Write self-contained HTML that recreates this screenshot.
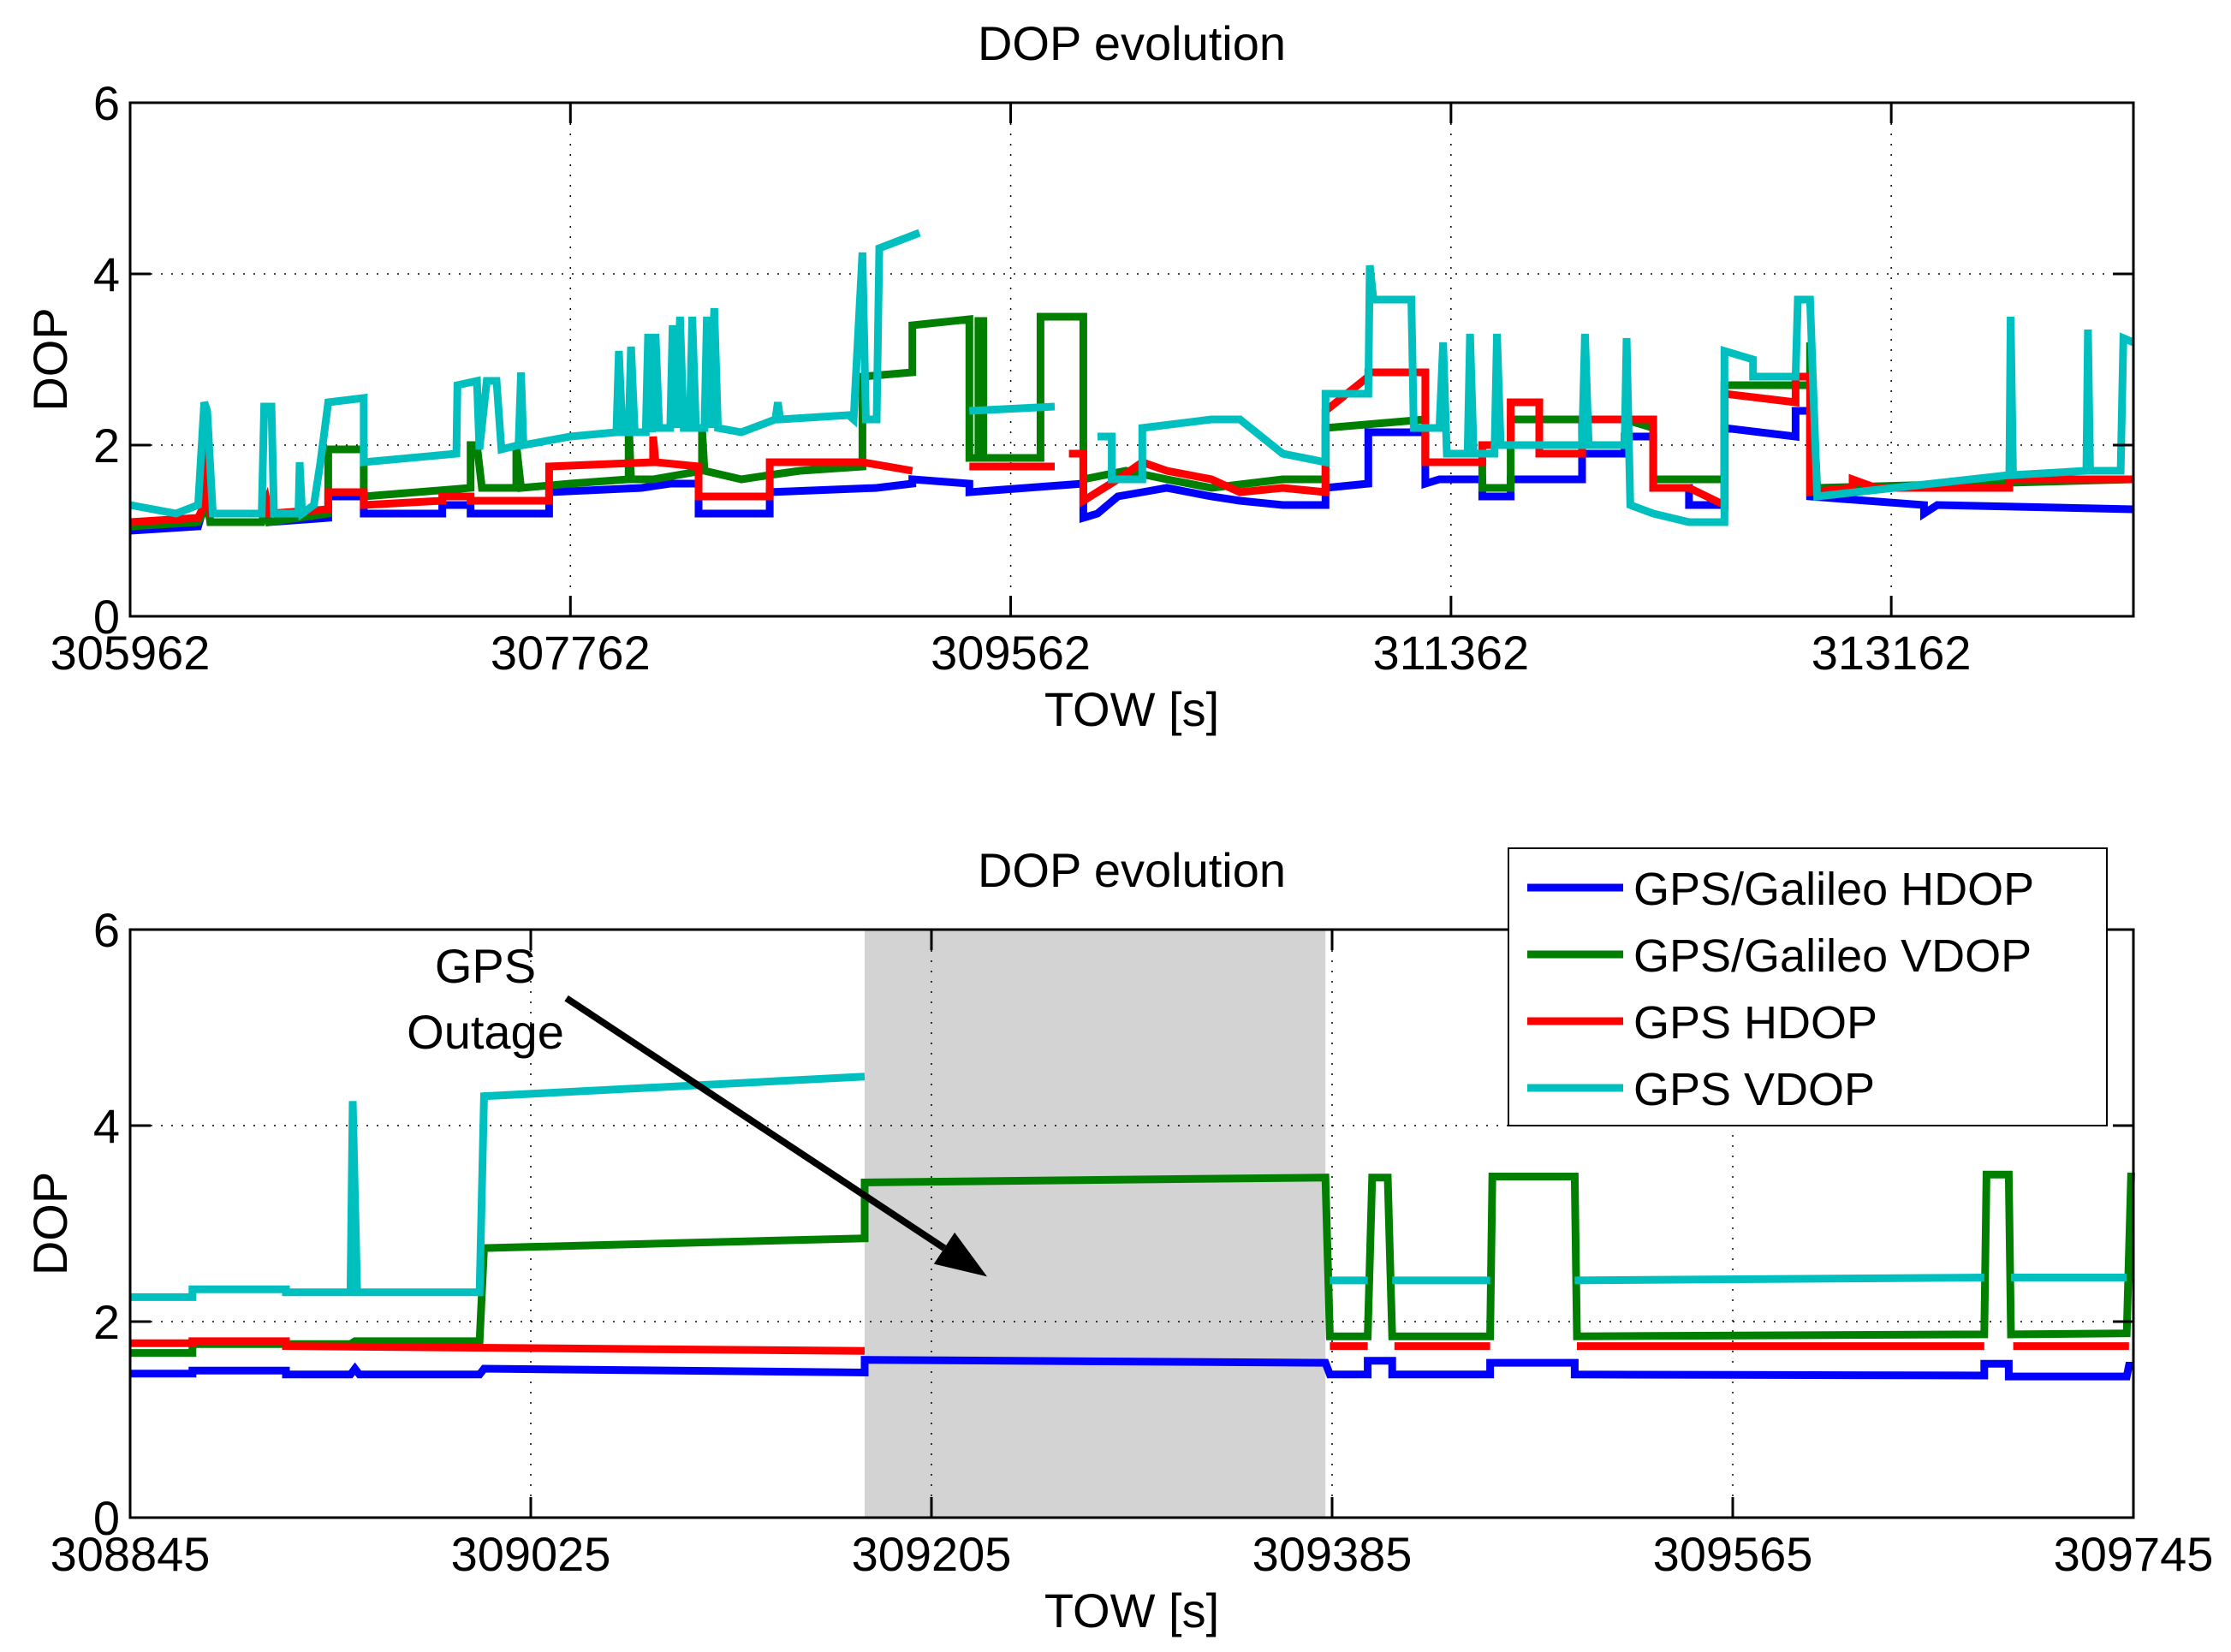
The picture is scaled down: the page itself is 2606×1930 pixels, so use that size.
<!DOCTYPE html>
<html><head><meta charset="utf-8"><style>
body{margin:0;background:#fff}
svg text{font-family:"Liberation Sans",sans-serif;fill:#000}
</style></head><body>
<svg id="c" width="2606" height="1925" xmlns="http://www.w3.org/2000/svg"></svg>
<script>
// ---------- data: top panel ----------
const topXTicks=[305962,307762,309562,311362,313162];
const bottomXTicks=[308845,309025,309205,309385,309565,309745];
const yTicks=[0,2,4,6];
const seriesNames=["GPS/Galileo HDOP","GPS/Galileo VDOP","GPS HDOP","GPS VDOP"];
const seriesColors=["#0000ff","#007f00","#ff0000","#00bfbf"];
const topBlue=[[305962,1.0],[306240,1.05],[306265,1.3],[306277,1.45],[306290,1.1],[306500,1.1],[306520,1.2],[306530,1.1],[306772,1.15],[306772,1.4],[306917,1.4],[306917,1.2],[307238,1.2],[307238,1.3],[307354,1.3],[307354,1.2],[307675,1.2],[307675,1.45],[308053,1.5],[308170,1.55],[308286,1.55],[308286,1.2],[308577,1.2],[308577,1.45],[309014,1.5],[309160,1.55],[309160,1.6],[309393,1.55],[309393,1.45],[309859,1.55],[309859,1.15],[309917,1.2],[310000,1.4],[310100,1.45],[310200,1.5],[310383,1.4],[310499,1.35],[310674,1.3],[310849,1.3],[310849,1.5],[311024,1.55],[311024,2.15],[311257,2.15],[311257,1.55],[311315,1.6],[311490,1.6],[311490,1.4],[311606,1.4],[311606,1.6],[311898,1.6],[311898,1.9],[312072,1.9],[312072,2.1],[312189,2.1],[312189,1.5],[312335,1.5],[312335,1.3],[312480,1.3],[312480,2.2],[312771,2.1],[312771,2.4],[312830,2.4],[312830,1.4],[313296,1.3],[313296,1.2],[313350,1.3],[314152,1.25]];
const topGreen=[[305962,1.05],[306240,1.1],[306277,1.3],[306290,1.1],[306500,1.1],[306520,1.3],[306530,1.1],[306772,1.2],[306772,1.95],[306917,1.95],[306917,1.4],[307354,1.5],[307354,2.0],[307380,2.0],[307400,1.5],[307541,1.5],[307541,2.0],[307560,1.5],[307762,1.55],[308000,1.6],[308000,2.3],[308010,1.6],[308100,1.6],[308300,1.7],[308300,2.2],[308310,1.7],[308461,1.6],[308577,1.65],[308700,1.7],[308956,1.75],[308956,2.8],[309160,2.85],[309160,3.4],[309393,3.47],[309393,1.85],[309430,1.85],[309430,3.45],[309450,3.45],[309450,1.85],[309684,1.85],[309684,3.5],[309859,3.5],[309859,1.6],[310033,1.7],[310200,1.6],[310383,1.5],[310674,1.6],[310849,1.6],[310849,2.2],[311257,2.3],[311257,1.8],[311490,1.8],[311490,1.5],[311606,1.5],[311606,2.3],[312072,2.3],[312189,2.2],[312189,1.6],[312480,1.6],[312480,2.7],[312830,2.7],[312830,3.2],[312859,1.5],[314152,1.6]];
const topRed=[[305962,1.1],[306240,1.15],[306265,1.3],[306277,2.3],[306290,1.2],[306500,1.2],[306520,1.35],[306530,1.2],[306772,1.25],[306772,1.45],[306917,1.45],[306917,1.3],[307238,1.35],[307238,1.4],[307354,1.4],[307354,1.35],[307675,1.35],[307675,1.75],[308100,1.8],[308100,2.1],[308110,1.8],[308286,1.75],[308286,1.4],[308577,1.4],[308577,1.8],[308956,1.8],[309160,1.7],[309160,null],[309393,1.75],[309742,1.75],[309742,null],[309800,1.9],[309859,1.9],[309859,1.35],[310000,1.6],[310100,1.8],[310200,1.7],[310383,1.6],[310499,1.45],[310674,1.5],[310849,1.45],[310849,2.4],[311024,2.8],[311024,2.85],[311257,2.85],[311257,1.8],[311490,1.8],[311490,2.0],[311606,2.0],[311606,2.5],[311723,2.5],[311723,1.9],[311898,1.9],[311898,2.3],[312189,2.3],[312189,1.5],[312335,1.5],[312480,1.3],[312480,2.6],[312771,2.5],[312771,2.8],[312830,2.8],[312830,1.45],[313004,1.5],[313004,1.6],[313100,1.5],[313645,1.5],[313645,1.6],[314152,1.6]];
const topCyan=[[305962,1.3],[306150,1.2],[306240,1.3],[306265,2.5],[306277,2.4],[306300,1.2],[306500,1.2],[306510,2.45],[306540,2.45],[306550,1.2],[306650,1.2],[306655,1.8],[306665,1.2],[306713,1.3],[306740,1.8],[306772,2.5],[306917,2.55],[306917,1.8],[307296,1.9],[307300,2.7],[307380,2.75],[307390,1.95],[307420,2.75],[307460,2.75],[307480,1.95],[307550,2.0],[307560,2.85],[307570,2.0],[307762,2.1],[307950,2.15],[307960,3.1],[307975,2.15],[308000,2.15],[308010,3.15],[308025,2.15],[308070,2.15],[308080,3.3],[308095,2.15],[308110,3.3],[308125,2.2],[308170,2.2],[308180,3.4],[308195,2.2],[308210,3.5],[308225,2.2],[308250,2.2],[308260,3.5],[308275,2.2],[308310,2.2],[308320,3.5],[308335,2.2],[308350,3.6],[308365,2.2],[308461,2.15],[308600,2.3],[308610,2.5],[308620,2.3],[308900,2.35],[308920,2.3],[308956,4.25],[308970,2.3],[309014,2.3],[309025,4.3],[309189,4.48],[309189,null],[309393,2.4],[309742,2.45],[309742,null],[309917,2.1],[309975,2.1],[309975,1.6],[310100,1.6],[310100,2.2],[310383,2.3],[310499,2.3],[310674,1.9],[310849,1.8],[310849,2.6],[311024,2.6],[311030,4.1],[311045,3.7],[311200,3.7],[311210,2.2],[311315,2.2],[311330,3.2],[311345,1.9],[311430,1.9],[311440,3.3],[311455,1.9],[311540,1.9],[311550,3.3],[311565,2.0],[311898,2.0],[311910,3.3],[311925,2.0],[312072,2.0],[312080,3.25],[312095,1.3],[312189,1.2],[312335,1.1],[312480,1.1],[312480,3.1],[312597,3.0],[312597,2.8],[312771,2.8],[312780,3.7],[312830,3.7],[312859,1.4],[313645,1.65],[313650,3.5],[313660,1.65],[313960,1.7],[313966,3.35],[313975,1.7],[314100,1.7],[314111,3.25],[314152,3.2]];
// ---------- data: bottom panel ----------
const botBlue=[[308845,1.47],[308873,1.47],[308873,1.5],[308915,1.5],[308915,1.46],[308944,1.46],[308946,1.52],[308948,1.46],[309002,1.46],[309004,1.52],[309175,1.48],[309175,1.61],[309382,1.58],[309384,1.46],[309401,1.46],[309401,1.6],[309412,1.6],[309412,1.46],[309456,1.46],[309456,1.58],[309494,1.58],[309494,1.46],[309678,1.45],[309678,1.57],[309689,1.57],[309689,1.44],[309742,1.44],[309743,1.55],[309745,1.55]];
const botGreen=[[308845,1.68],[308873,1.68],[308873,1.77],[308944,1.77],[308946,1.8],[309002,1.8],[309004,2.75],[309175,2.85],[309175,3.42],[309382,3.47],[309384,1.85],[309401,1.85],[309403,3.47],[309410,3.47],[309412,1.85],[309456,1.85],[309457,3.48],[309494,3.48],[309495,1.85],[309678,1.87],[309679,3.5],[309689,3.5],[309690,1.87],[309742,1.88],[309744,3.52]];
const botRed=[[308845,1.78],[308873,1.78],[308873,1.8],[308915,1.8],[308915,1.75],[309175,1.7],[309175,null],[309384,1.75],[309401,1.75],[309401,null],[309413,1.75],[309456,1.75],[309456,null],[309495,1.75],[309678,1.75],[309678,null],[309691,1.75],[309743,1.75]];
const botCyan=[[308845,2.25],[308873,2.25],[308873,2.33],[308915,2.33],[308915,2.3],[308944,2.3],[308945,4.25],[308947,2.3],[309002,2.3],[309004,4.3],[309175,4.5],[309175,null],[309384,2.42],[309401,2.42],[309401,null],[309412,2.42],[309456,2.42],[309456,null],[309494,2.42],[309678,2.45],[309678,null],[309690,2.45],[309742,2.45]];
const outageSpan=[309175,309382];
const arrowFrom=[309041,5.3], arrowTo=[309230,2.46];

const NS="http://www.w3.org/2000/svg", svg=document.getElementById('c');
function el(tag,attrs,parent,txt){const e=document.createElementNS(NS,tag);for(const k in attrs)e.setAttribute(k,attrs[k]);if(txt!==undefined)e.textContent=txt;(parent||svg).appendChild(e);return e;}

function panel(name,box,xmin,xmax,xticks,series,extra){
  const [L,T,R,B]=box;
  const g=el('g',{});
  
  
  const sx=t=>L+(t-xmin)/(xmax-xmin)*(R-L), sy=v=>B-v/6*(B-T);
  if(extra&&extra.before)extra.before(g,sx,sy);
  xticks.forEach(t=>{if(t>xmin&&t<xmax){const l=el('line',{x1:sx(t),x2:sx(t),y1:T,y2:B,stroke:'#000','stroke-width':1.5,'stroke-dasharray':'2 10'},g);}});
  yTicks.forEach(v=>{if(v>0&&v<6){const l=el('line',{x1:L,x2:R,y1:sy(v),y2:sy(v),stroke:'#000','stroke-width':1.5,'stroke-dasharray':'2 10'},g);}});
  series.forEach((pts,i)=>{
    let d='',pen=false;
    pts.forEach(p=>{if(p[1]===null){pen=false;return;}d+=(pen?'L':'M')+sx(p[0]).toFixed(1)+' '+sy(p[1]).toFixed(1);pen=true;});
    const p=el('path',{d:d,fill:'none',stroke:seriesColors[i],'stroke-width':9,'stroke-linejoin':'miter'},g);
    
    
  });
  const bx=el('rect',{x:L,y:T,width:R-L,height:B-T,fill:'none',stroke:'#000','stroke-width':3},g);
  
  xticks.forEach(t=>{
    el('line',{x1:sx(t),x2:sx(t),y1:B,y2:B-24,stroke:'#000','stroke-width':3},g);
    el('line',{x1:sx(t),x2:sx(t),y1:T,y2:T+24,stroke:'#000','stroke-width':3},g);
    const tx=el('text',{x:sx(t),y:B+62,'font-size':56,'text-anchor':'middle'},g,String(t));
    
  });
  yTicks.forEach(v=>{
    el('line',{x1:L,x2:L+24,y1:sy(v),y2:sy(v),stroke:'#000','stroke-width':3},g);
    el('line',{x1:R,x2:R-24,y1:sy(v),y2:sy(v),stroke:'#000','stroke-width':3},g);
    const tx=el('text',{x:L-12,y:sy(v)+20,'font-size':56,'text-anchor':'end'},g,String(v));
    
  });
  const ti=el('text',{x:(L+R)/2,y:T-50,'font-size':56,'text-anchor':'middle'},g,'DOP evolution');
  
  const xl=el('text',{x:(L+R)/2,y:B+128,'font-size':56,'text-anchor':'middle'},g,'TOW [s]');
  
  const yl=el('text',{x:0,y:0,'font-size':56,'text-anchor':'middle',transform:`translate(78,${(T+B)/2}) rotate(-90)`},g,'DOP');
  
  if(extra&&extra.after)extra.after(g,sx,sy);
}

panel('top-dop-panel',[152,120,2492,720],305962,314152,topXTicks,[topBlue,topGreen,topRed,topCyan]);
panel('bottom-dop-panel',[152,1086,2492,1773],308845,309745,bottomXTicks,[botBlue,botGreen,botRed,botCyan],{
  before:(g,sx,sy)=>{
    const r=el('rect',{x:sx(outageSpan[0]),y:1086,width:sx(outageSpan[1])-sx(outageSpan[0]),height:1773-1086,fill:'#d3d3d3'},g);
    
  },
  after:(g,sx,sy)=>{
    const x1=sx(arrowFrom[0]),y1=sy(arrowFrom[1]),x2=sx(arrowTo[0]),y2=sy(arrowTo[1]);
    const a=Math.atan2(y2-y1,x2-x1),hl=60,hw=22;
    const bxp=x2-hl*Math.cos(a),byp=y2-hl*Math.sin(a);
    const ln=el('line',{x1:x1,y1:y1,x2:bxp,y2:byp,stroke:'#000','stroke-width':8},g);
    
    const hd=el('polygon',{points:`${x2},${y2} ${bxp+hw*Math.sin(a)},${byp-hw*Math.cos(a)} ${bxp-hw*Math.sin(a)},${byp+hw*Math.cos(a)}`,fill:'#000'},g);
    
    const t1=el('text',{x:567,y:1148,'font-size':56,'text-anchor':'middle'},g,'GPS');
    
    const t2=el('text',{x:567,y:1225,'font-size':56,'text-anchor':'middle'},g,'Outage');
    
  }
});
// legend
const lg=el('g',{});


el('rect',{x:1762,y:991,width:699,height:324,fill:'#fff',stroke:'#000','stroke-width':2},lg);
seriesNames.forEach((n,i)=>{
  const y=1037+i*78;
  const e=el('g',{},lg);
  
  
  el('line',{x1:1784,x2:1896,y1:y,y2:y,stroke:seriesColors[i],'stroke-width':9},e);
  el('text',{x:1908,y:y+20,'font-size':54},e,n);
});
</script>
</body></html>
